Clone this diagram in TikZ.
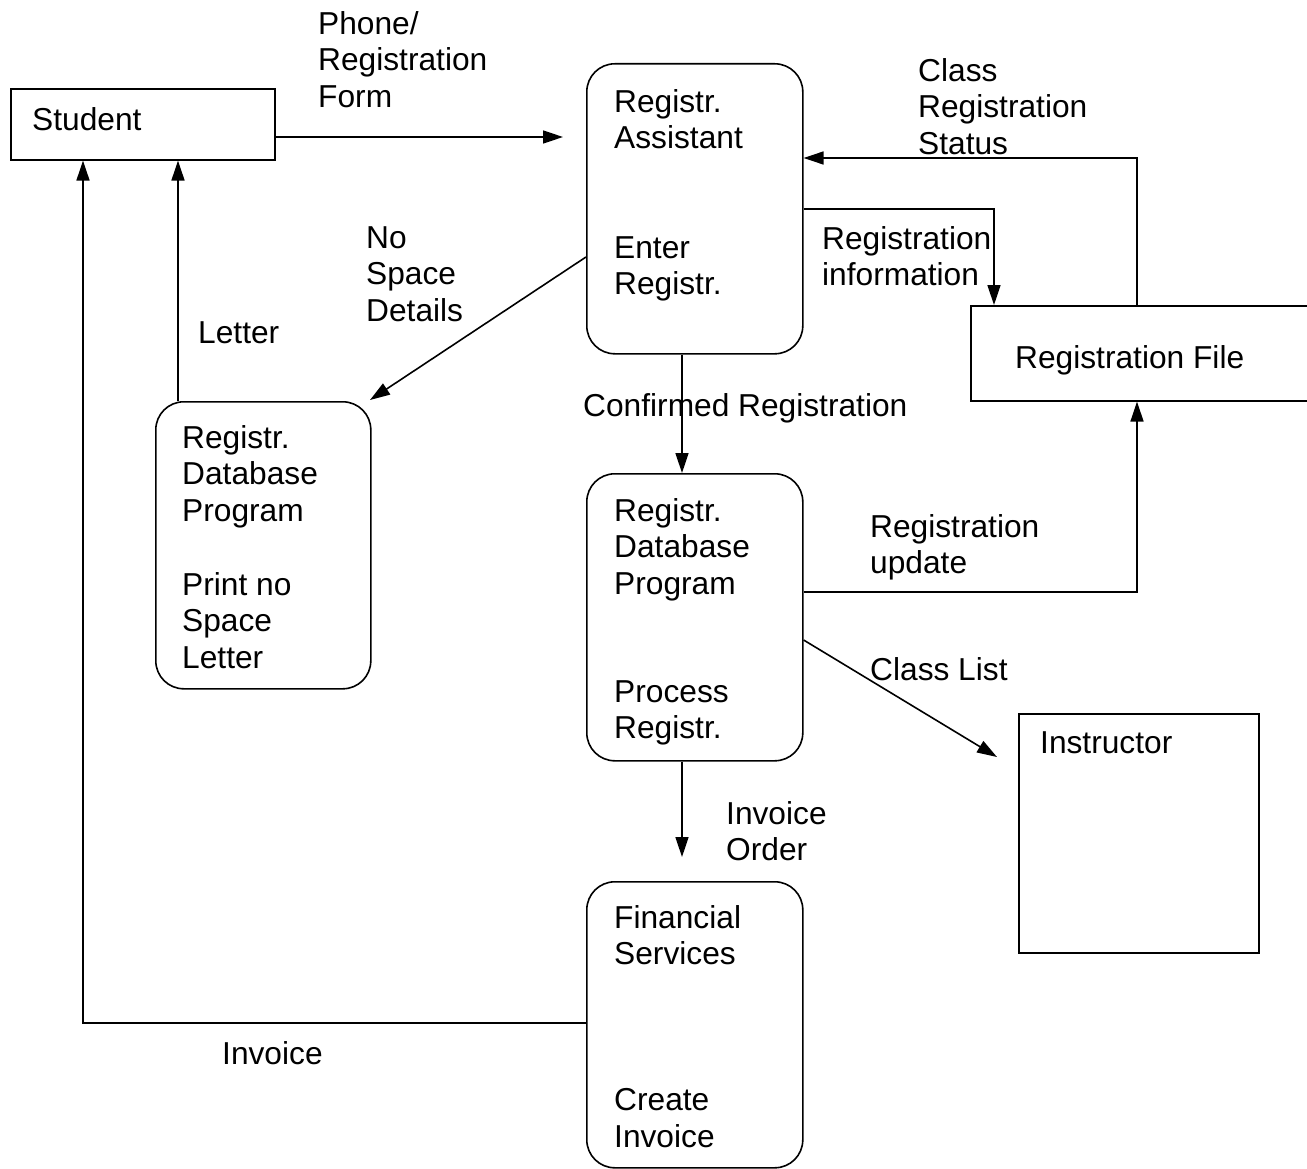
\documentclass[tikz,border=0pt]{standalone}
\usepackage{fontspec}
\setmainfont{Liberation Sans}
\usetikzlibrary{arrows.meta}
\begin{document}
\begin{tikzpicture}[x=1pt,y=-1pt,
  box/.style={draw, line width=1.6pt, rectangle, anchor=north west, inner sep=0pt},
  proc/.style={box, rounded corners=28pt},
  flow/.style={line width=1.6pt, -{Triangle[length=20pt,width=13pt]}},
  lbl/.style={font=\fontsize{31.7}{36.7}\selectfont, align=left, inner sep=0pt, anchor=north west}]
\useasboundingbox (0,0) rectangle (1307,1169);
% boxes
\node[box, minimum width=264pt, minimum height=71pt] (student) at (10,88) {};
\node[proc, minimum width=216pt, minimum height=290pt] (asst) at (586,63) {};
\node[box, minimum width=360pt, minimum height=95pt] (rfile) at (970,305) {};
\node[proc, minimum width=215pt, minimum height=287pt] (dbl) at (155,401) {};
\node[proc, minimum width=216pt, minimum height=287pt] (dbp) at (586,473) {};
\node[box, minimum width=240pt, minimum height=239pt] (instr) at (1018,713) {};
\node[proc, minimum width=216pt, minimum height=286pt] (fin) at (586,881) {};
% texts in boxes
\node[lbl] (tstudent) at (32,107) {Student};
\node[lbl] (tasst1) at (614,89) {Registr.\\Assistant};
\node[lbl] (tasst2) at (614,236) {Enter\\Registr.};
\node[lbl] (trfile) at (1015,345) {Registration File};
\node[lbl] (tdbl1) at (182,425) {Registr.\\Database\\Program};
\node[lbl] (tdbl2) at (182,572) {Print no\\Space\\Letter};
\node[lbl] (tdbp1) at (614,498) {Registr.\\Database\\Program};
\node[lbl] (tdbp2) at (614,680) {Process\\Registr.};
\node[lbl] (tinstr) at (1040,731) {Instructor};
\node[lbl] (tfin1) at (614,905) {Financial\\Services};
\node[lbl] (tfin2) at (614,1088) {Create\\Invoice};
% connector labels
\node[lbl] (lphone) at (318,11) {Phone/\\Registration\\Form};
\node[lbl] (lstatus) at (918,58) {Class\\Registration\\Status};
\node[lbl] (linfo) at (822,226) {Registration\\information};
\node[lbl] (lnospace) at (366,226) {No\\Space\\Details};
\node[lbl] (lletter) at (198,321) {Letter};
\node[lbl] (lconf) at (583,393) {Confirmed Registration};
\node[lbl] (lupdate) at (870,514) {Registration\\update};
\node[lbl] (lclass) at (870,657) {Class List};
\node[lbl] (lorder) at (726,801) {Invoice\\Order};
\node[lbl] (linvoice) at (222,1041) {Invoice};
% free ends
\coordinate (e1) at (563,137);
\coordinate (e2) at (370,400);
\coordinate (e3) at (997,757);
\coordinate (e4) at (682,857);
% connectors
\draw[flow] (student.east |- 0,137) -- (e1);
\draw[flow] (1137,0 |- rfile.north) -- (1137,158) -- (asst.east |- 0,158);
\draw[flow] (asst.east |- 0,209) -- (994,209) -- (994,0 |- rfile.north);
\draw[flow] (asst.west |- 0,257) -- (e2);
\draw[flow] (178,0 |- dbl.north) -- (178,0 |- student.south);
\draw[flow] (682,0 |- asst.south) -- (682,0 |- dbp.north);
\draw[flow] (dbp.east |- 0,592) -- (1137,592) -- (1137,0 |- rfile.south);
\draw[flow] (dbp.east |- 0,640) -- (e3);
\draw[flow] (682,0 |- dbp.south) -- (e4);
\draw[flow] (fin.west |- 0,1023) -- (83,1023) -- (83,0 |- student.south);
\end{tikzpicture}
\end{document}
